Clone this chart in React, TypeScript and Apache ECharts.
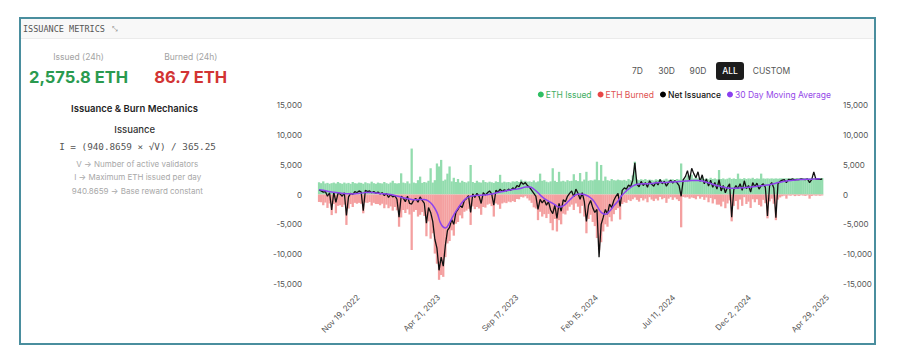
import { useEffect, useRef } from "react";
import * as echarts from "echarts";

// ---------- data ----------
const START_DATE = "2022-09-06"; // first sample
const STEP_DAYS = 4; // one sample every 4 days
const MA_STEP_DAYS = 8; // moving-average samples every 8 days

const ISSUED = [
  2050, 1900, 2200, 1850, 1950, 1800, 1900, 2000, 1850, 2100,
  1900, 1800, 2000, 1850, 1950, 1800, 2100, 1900, 1850, 2000,
  1950, 1800, 2050, 1900, 1850, 2150, 1900, 1800, 2000, 1900,
  1850, 2100, 1900, 1800, 2000, 2300, 1900, 1850, 1900, 3550,
  2000, 1900, 2200, 1850, 7700, 2000, 1900, 2400, 3000, 1950,
  2100, 2000, 2300, 4400, 2000, 2400, 5200, 4700, 5800, 2300,
  2500, 3500, 4700, 2200, 2800, 2100, 2600, 2000, 2300, 2100,
  2000, 2200, 4950, 2100, 1950, 2300, 2050, 2000, 2400, 2100,
  2000, 2150, 2050, 1950, 2200, 2100, 3300, 2000, 2150, 2050,
  2100, 2000, 2200, 2150, 2250, 2100, 2500, 2200, 2300, 2150,
  2200, 2100, 2350, 2050, 2200, 3500, 2300, 2400, 2150, 2050,
  2200, 4400, 2300, 2100, 3800, 2200, 2300, 2150, 2400, 2250,
  2300, 3400, 2400, 2250, 3600, 2200, 2500, 3800, 2300, 2400,
  2350, 2500, 5500, 2400, 4950, 2300, 3000, 2400, 2300, 2600,
  2400, 2350, 2500, 2400, 2350, 2450, 2300, 2600, 2400, 3200,
  5500, 2500, 2400, 2550, 2450, 2600, 2400, 2500, 2450, 2350,
  2550, 2450, 2600, 2400, 2500, 2650, 2450, 2500, 2550, 2400,
  2600, 2500, 5200, 2550, 2700, 3200, 2800, 3300, 2700, 2900,
  2700, 2650, 3000, 2600, 2700, 2550, 2800, 2600, 2700, 2550,
  4100, 2600, 2700, 2550, 2650, 2800, 2600, 2700, 2600, 3500,
  2650, 2600, 2750, 2600, 2700, 2650, 2800, 2600, 2700, 2650,
  3500, 2700, 2650, 2700, 2650, 2700, 2650, 2700, 2650, 2700,
  2700, 2700, 2710, 2710, 2710, 2720, 2720, 2720, 2730, 2730,
  2730, 2740, 2740, 2740, 2750, 2750, 2750, 2760, 2760, 2760,
];

const BURNED = [
  -1250, -1300, -1800, -1350, -2250, -1500, -3450, -1600, -3150, -1900,
  -1800, -2100, -1700, -5100, -2350, -1600, -2100, -1400, -1550, -1400,
  -1550, -3150, -1350, -1400, -1250, -1850, -1400, -1600, -1600, -1800,
  -1550, -2300, -1700, -2300, -2000, -2700, -2100, -2650, -5400, -3850,
  -2600, -3100, -2500, -3350, -9300, -2900, -2600, -3700, -3400, -2950,
  -3600, -7000, -4500, -7400, -6500, -9900, -11600, -14300, -13500, -13800,
  -10500, -8200, -7800, -6000, -6900, -4900, -4600, -3500, -4000, -2900,
  -2700, -2400, -5100, -2000, -2450, -2100, -2350, -3400, -2100, -2200,
  -1700, -1550, -1950, -3700, -1500, -1700, -2400, -1500, -1350, -1450,
  -1200, -1300, -1100, -1250, -750, -800, -400, -500, -300, -650,
  -1000, -1400, -2150, -2350, -4300, -2900, -3700, -3300, -3950, -3250,
  -4800, -6000, -4100, -6200, -4300, -5000, -3200, -3350, -2700, -2050,
  -1700, -2600, -1500, -2050, -3150, -1900, -3700, -6500, -4100, -3400,
  -4600, -5300, -7300, -9300, -8000, -6200, -5000, -5400, -3800, -4500,
  -3300, -2600, -2300, -4200, -1600, -1300, -1400, -900, -1100, -800,
  -500, -900, -1200, -600, -1000, -700, -1300, -450, -850, -1100,
  -700, -1000, -400, -800, -600, -1400, -700, -450, -900, -500,
  -800, -1100, -5500, -400, -500, -450, -700, -500, -600, -800,
  -300, -700, -400, -900, -500, -1300, -600, -1500, -800, -1700,
  -1700, -2000, -1200, -2300, -1500, -1000, -4500, -1900, -1100, -2500,
  -850, -1900, -450, -1600, -1200, -2250, -800, -1300, -800, -1750,
  -2000, -900, -1450, -4000, -1150, -700, -1550, -4300, -850, -500,
  -300, -200, -700, -160, -210, -120, -270, -170, -230, -130,
  -180, -240, -140, -700, -250, -150, -200, -160, -210, -160,
];

const NET = [
  800, 600, 400, 500, -300, 300, -2600, 400, -1300, 200,
  100, -300, 300, -3500, -400, 200, 0, 500, 300, 600,
  400, -2700, 700, 500, 600, 300, 500, 200, 400, 100,
  300, -200, 200, -500, 0, -400, -200, -800, -3800, -300,
  -600, -1200, -300, -1500, -1600, -900, -700, -1300, -400, -1000,
  -1500, -4800, -2200, -3000, -4500, -7500, -9000, -12700, -10500, -12000,
  -8500, -6000, -5500, -4200, -5000, -3000, -2500, -1800, -2200, -1000,
  -700, -200, -3000, 100, -500, 200, -300, -1500, 300, -100,
  300, 600, 100, -1800, 700, 400, 900, 500, 800, 600,
  900, 700, 1100, 900, 1500, 1300, 2100, 1700, 2000, 1500,
  1200, 700, 200, -300, -2500, -800, -1400, -900, -1800, -1200,
  -2600, -3200, -1800, -4000, -1500, -2800, -900, -1200, -300, 200,
  600, -400, 900, 200, -800, 300, -1200, -4500, -1800, -1000,
  -2200, -3000, -2500, -10500, -5000, -3800, -2500, -3300, -1600, -2200,
  -1000, -300, 200, -2000, 700, 1100, 900, 1600, 1300, 2400,
  5300, 1700, 1300, 2200, 1500, 2000, 1200, 2300, 1700, 1400,
  2100, 1600, 2500, 1800, 2200, 1400, 2000, 2400, 1900, 2300,
  2000, 1500, -300, 2500, 3000, 4000, 2400, 4400, 3500, 2800,
  3800, 2200, 3300, 1800, 2600, 1400, 2400, 1200, 2000, 900,
  2500, 600, 1500, 300, 1200, 1800, -3800, 800, 1500, 1000,
  1800, 700, 2300, 1000, 1500, 400, 2000, 1300, 1900, 900,
  1500, 1800, 1200, -3600, 1500, 2000, 1100, -3900, 1800, 2200,
  2400, 2500, 2000, 2550, 2500, 2600, 2450, 2550, 2500, 2600,
  2550, 2500, 2600, 2000, 2500, 3800, 2550, 2600, 2550, 2600,
];

const MA_30D = [
  800, 700, 550, 420, 330, 250, 180, 130, 100, 150,
  230, 320, 350, 300, 220, 140, 100, 0, -180, -350,
  -550, -720, -830, -900, -820, -850, -1100, -1800, -3000, -5000,
  -5600, -4700, -3400, -2300, -1300, -600, -300, -180, -120, -100,
  -30, 80, 250, 420, 560, 700, 830, 900, 1050, 1250,
  1250, 900, 300, -400, -900, -1300, -1700, -2100, -1900, -1300,
  -600, -50, 100, 0, -300, -900, -1900, -3000, -3300, -2800,
  -1900, -1100, -100, 600, 1200, 1600, 1750, 1800, 1800, 1850,
  1950, 2000, 2000, 2050, 2100, 2150, 2200, 2250, 2300, 2350,
  2350, 2250, 2050, 1850, 1600, 1400, 1250, 1100, 1050, 1050,
  1100, 1150, 1200, 1300, 1400, 1450, 1550, 1650, 1800, 2000,
  2150, 2250, 2350, 2450, 2500, 2530, 2550, 2570, 2600, 2620,
];

const TICK_DATES = [
  "2022-11-19",
  "2023-04-21",
  "2023-09-17",
  "2024-02-15",
  "2024-07-11",
  "2024-12-02",
  "2025-04-29",
];
const MONTHS = ["Jan", "Feb", "Mar", "Apr", "May", "Jun", "Jul", "Aug", "Sep", "Oct", "Nov", "Dec"];
const Y_MIN = -15000;
const Y_MAX = 15000;
const Y_INTERVAL = 5000;

const SERIES_NAMES = ["ETH Issued", "ETH Burned", "Net Issuance", "30 Day Moving Average"];
const RANGE_BUTTONS = ["7D", "30D", "90D", "ALL", "CUSTOM"];
const ACTIVE_RANGE = "ALL";
const ISSUED_24H = "2,575.8 ETH";
const BURNED_24H = "86.7 ETH";
const FORMULA_LINES = [
  "V → Number of active validators",
  "I → Maximum ETH issued per day",
  "940.8659 → Base reward constant",
];

const DAY_MS = 86400000;
const SANS = "Inter, 'Noto Sans', sans-serif";
const MONO = "'DejaVu Sans Mono', 'Liberation Mono', monospace";

function txt(x: number, y: number, text: string, style: Record<string, unknown>) {
  return {
    type: "text",
    x,
    y,
    z: 10,
    style: {
      text,
      align: "center",
      verticalAlign: "middle",
      textAlign: "center",
      textVerticalAlign: "middle",
      fontFamily: SANS,
      ...style,
    },
  };
}

export default function App() {
  const ref = useRef<HTMLDivElement>(null);

  useEffect(() => {
    if (!ref.current) return;
    const chart = echarts.init(ref.current, null, { renderer: "svg" });
    const t0 = Date.parse(START_DATE);
    const dates = ISSUED.map((_, i) => t0 + i * STEP_DAYS * DAY_MS);
    const maDates = MA_30D.map((_, j) => t0 + j * MA_STEP_DAYS * DAY_MS);
    const tickValues = TICK_DATES.map((d) => Date.parse(d));
    const xMin = dates[0] - 2 * DAY_MS;
    const xMax = tickValues[tickValues.length - 1] + 1 * DAY_MS;

    const fmtDate = (v: number) => {
      const d = new Date(v);
      return `${MONTHS[d.getUTCMonth()]} ${d.getUTCDate()}, ${d.getUTCFullYear()}`;
    };
    const fmtNum = (v: number) => v.toLocaleString("en-US");

    const buttonX: Record<string, number> = { "7D": 637.5, "30D": 666.5, "90D": 698, ALL: 730, CUSTOM: 771.5 };

    const graphic: any[] = [
      {
        type: "rect",
        z: 0,
        shape: { x: 20, y: 18, width: 855, height: 326 },
        style: { fill: "#ffffff", stroke: "#4a8e9e", lineWidth: 2 },
      },
      {
        type: "rect",
        z: 1,
        shape: { x: 21, y: 19, width: 853, height: 19 },
        style: { fill: "#f8f8f8" },
      },
      {
        type: "line",
        z: 1,
        shape: { x1: 21, y1: 38.5, x2: 874, y2: 38.5 },
        style: { stroke: "#ebebeb", lineWidth: 1 },
      },
      {
        type: "text",
        x: 23,
        y: 28.5,
        z: 10,
        style: {
          text: "ISSUANCE METRICS",
          fontFamily: MONO,
          fontSize: 8.5,
          fill: "#555",
          align: "left",
          verticalAlign: "middle",
          textAlign: "left",
          textVerticalAlign: "middle",
        },
      },
      {
        type: "text",
        x: 112,
        y: 29,
        z: 10,
        style: {
          text: "⤡",
          fontFamily: "'DejaVu Sans', sans-serif",
          fontSize: 7,
          fill: "#777",
          align: "left",
          verticalAlign: "middle",
          textAlign: "left",
          textVerticalAlign: "middle",
        },
      },
      txt(78.5, 56.7, "Issued (24h)", { fontSize: 8.5, fill: "#a3a3a3" }),
      txt(190.8, 56.7, "Burned (24h)", { fontSize: 8.5, fill: "#a3a3a3" }),
      txt(78.5, 76.7, ISSUED_24H, { fontSize: 16.5, fontWeight: 700, fill: "#2a9a4f" }),
      txt(190.7, 76.7, BURNED_24H, { fontSize: 16.5, fontWeight: 700, fill: "#d23434" }),
      txt(134.5, 108.3, "Issuance & Burn Mechanics", { fontSize: 9.5, fontWeight: 600, fill: "#1f1f1f" }),
      txt(134.7, 129.3, "Issuance", { fontSize: 9.5, fontWeight: 500, fill: "#333" }),
      txt(137.5, 146.7, "I = (940.8659 × √V) / 365.25", { fontFamily: MONO, fontSize: 9.3, fill: "#555" }),
      txt(137.3, 164, FORMULA_LINES[0], { fontSize: 8, fill: "#a8a8a8" }),
      txt(137.7, 177.3, FORMULA_LINES[1], { fontSize: 8, fill: "#a8a8a8" }),
      txt(137.3, 191.3, FORMULA_LINES[2], { fontSize: 8, fill: "#a8a8a8" }),
      {
        type: "rect",
        z: 5,
        shape: { x: 716, y: 62, width: 28, height: 18, r: 3 },
        style: { fill: "#1c1c1c" },
      },
      ...RANGE_BUTTONS.map((b) =>
        txt(buttonX[b], 71.2, b, {
          fontSize: 8.5,
          fontWeight: b === ACTIVE_RANGE ? 500 : 400,
          fill: b === ACTIVE_RANGE ? "#ffffff" : "#555",
        })
      ),
    ];

    const option: any = {
      animation: false,
      backgroundColor: "#ffffff",
      textStyle: { fontFamily: SANS },
      graphic,
      legend: {
        top: 85,
        right: 72,
        icon: "circle",
        itemWidth: 6,
        itemHeight: 6,
        itemGap: 6,
        selectedMode: false,
        textStyle: { fontSize: 8.5, fontFamily: SANS, padding: [0, 0, 0, -3] },
        data: [
          { name: SERIES_NAMES[0], itemStyle: { color: "#2fbf62" }, textStyle: { color: "#3fae63" } },
          { name: SERIES_NAMES[1], itemStyle: { color: "#e84646" }, textStyle: { color: "#e05252" } },
          { name: SERIES_NAMES[2], itemStyle: { color: "#000000" }, textStyle: { color: "#111111", fontWeight: 500 } },
          { name: SERIES_NAMES[3], itemStyle: { color: "#8a3ff0" }, textStyle: { color: "#9548e8" } },
        ],
      },
      grid: { left: 318, right: 80, top: 105, bottom: 78, containLabel: false },
      xAxis: {
        type: "value",
        min: xMin,
        max: xMax,
        axisLine: { show: false },
        axisTick: { show: false, customValues: tickValues },
        splitLine: { show: false },
        axisLabel: {
          customValues: tickValues,
          rotate: 45,
          fontSize: 8,
          color: "#555",
          margin: 12,
          hideOverlap: false,
          showMinLabel: true,
          showMaxLabel: true,
          formatter: (v: number) => fmtDate(v),
        },
      },
      yAxis: [
        {
          type: "value",
          position: "left",
          min: Y_MIN,
          max: Y_MAX,
          interval: Y_INTERVAL,
          axisLine: { show: false },
          axisTick: { show: false },
          splitLine: { show: false },
          axisLabel: { fontSize: 8, color: "#555", margin: 16, formatter: fmtNum },
        },
        {
          type: "value",
          position: "right",
          min: Y_MIN,
          max: Y_MAX,
          interval: Y_INTERVAL,
          axisLine: { show: false },
          axisTick: { show: false },
          splitLine: { show: false },
          axisLabel: { fontSize: 8, color: "#555", margin: 15, formatter: fmtNum },
        },
      ],
      series: [
        {
          name: SERIES_NAMES[0],
          type: "bar",
          data: ISSUED.map((v, i) => [dates[i], v]),
          barWidth: 2.3,
          barGap: "-100%",
          itemStyle: { color: "#93dcae" },
          z: 2,
        },
        {
          name: SERIES_NAMES[1],
          type: "bar",
          data: BURNED.map((v, i) => [dates[i], v]),
          barWidth: 2.3,
          barGap: "-100%",
          itemStyle: { color: "#f4a0a0" },
          z: 2,
        },
        {
          name: SERIES_NAMES[2],
          type: "line",
          data: NET.map((v, i) => [dates[i], v]),
          symbol: "none",
          showSymbol: false,
          itemStyle: { color: "#000000" },
          lineStyle: { color: "#111111", width: 1.3 },
          z: 3,
        },
        {
          name: SERIES_NAMES[3],
          type: "line",
          data: MA_30D.map((v, j) => [maDates[j], v]),
          smooth: true,
          symbol: "none",
          showSymbol: false,
          itemStyle: { color: "#8a3ff0" },
          lineStyle: { color: "#8e44ec", width: 1.5 },
          z: 4,
        },
      ],
    };

    chart.setOption(option);
    return () => chart.dispose();
  }, []);

  return (
    <div
      ref={ref}
      style={{ position: "fixed", left: 0, top: 0, width: 908, height: 362, background: "#ffffff" }}
    />
  );
}
